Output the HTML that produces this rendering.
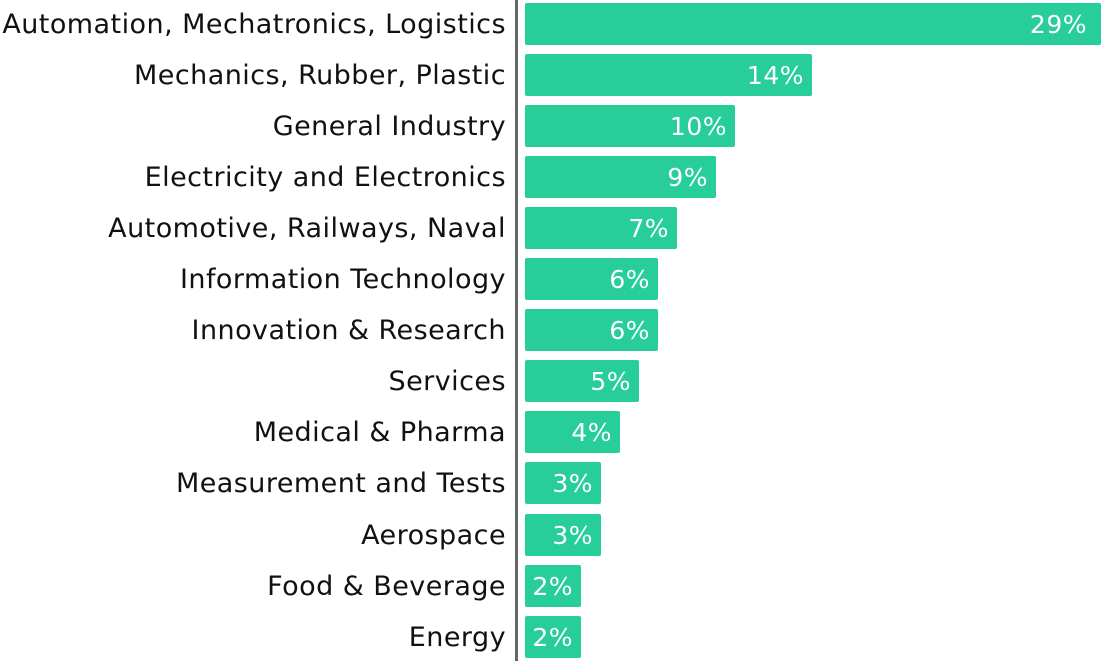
<!DOCTYPE html>
<html><head><style>
body{margin:0;width:1101px;height:661px;background:#fff;overflow:hidden;font-family:"DejaVu Sans","Liberation Sans",sans-serif;position:relative}
.ax{position:absolute;left:515px;top:0;width:3px;height:661px;background:#666}
.l{position:absolute;width:560px;text-align:right;line-height:44px;font-size:27px;color:#111;white-space:nowrap;letter-spacing:0.45px}
.b{position:absolute;left:525px;height:42px;background:#27ce9a;border-radius:2px;color:#fff;font-size:25px;line-height:43px;text-align:right;box-sizing:border-box;padding-right:8px;white-space:nowrap;letter-spacing:0.5px}
</style></head><body>
<div class="ax"></div>
<div id="c"></div>
<script>
var d=[["Automation, Mechatronics, Logistics",1101,"29%"],["Mechanics, Rubber, Plastic",812,"14%"],["General Industry",735,"10%"],["Electricity and Electronics",716,"9%"],["Automotive, Railways, Naval",677,"7%"],["Information Technology",658,"6%"],["Innovation & Research",658,"6%"],["Services",639,"5%"],["Medical & Pharma",620,"4%"],["Measurement and Tests",601,"3%"],["Aerospace",601,"3%"],["Food & Beverage",581,"2%"],["Energy",581,"2%"]];
var h="";d.forEach(function(x,i){var y=3+i*51.05;
h+='<div class="l" style="top:'+y+'px;right:'+(1101-506)+'px">'+x[0].replace(/&/g,"&amp;")+'</div><div class="b" style="top:'+y+'px;width:'+(x[1]-525)+'px;'+(i==0?'padding-right:14px':'')+'">'+x[2]+'</div>';});
document.getElementById("c").innerHTML=h;
</script>
</body></html>
